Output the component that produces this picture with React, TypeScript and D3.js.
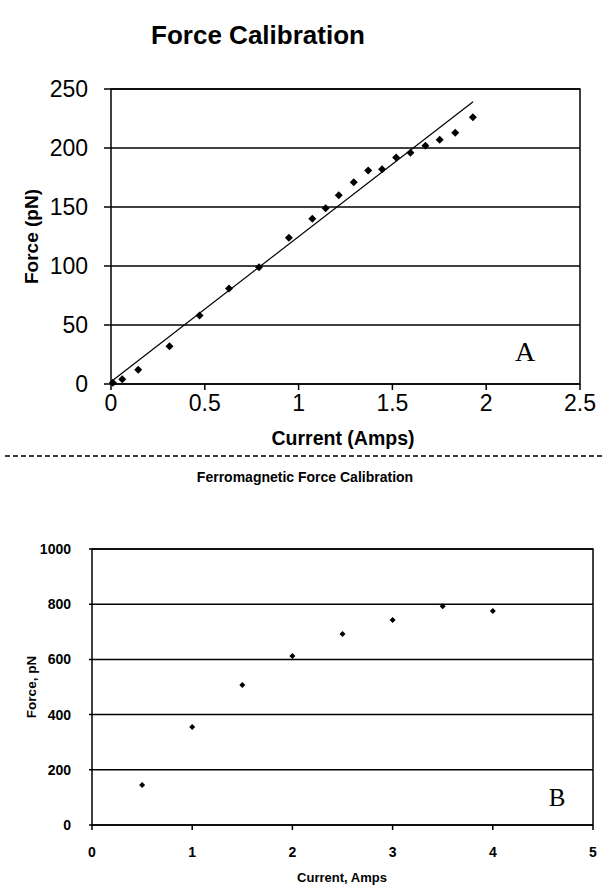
import React from "react";
import * as d3 from "d3";

// Panel A data
const currentA = [0.01, 0.06, 0.145, 0.312, 0.472, 0.629, 0.789, 0.948, 1.073, 1.144, 1.214, 1.294, 1.371, 1.445, 1.52, 1.596, 1.676, 1.752, 1.835, 1.929];
const forceA = [1, 4, 12, 32, 58, 81, 99, 124, 140, 149, 160, 171, 181, 182, 192, 196, 202, 207, 213, 226];
const trendSlopeA = 122.9;
const trendInterceptA = 2;
const trendRangeA = [0.01, 1.93];
const xTicksA = [0, 0.5, 1, 1.5, 2, 2.5];
const yTicksA = [0, 50, 100, 150, 200, 250];

// Panel B data
const currentB = [0.5, 1, 1.5, 2, 2.5, 3, 3.5, 4];
const forceB = [145, 355, 507, 612, 692, 743, 793, 775];
const xTicksB = [0, 1, 2, 3, 4, 5];
const yTicksB = [0, 200, 400, 600, 800, 1000];

const SANS = "'Liberation Sans', Arial, sans-serif";
const SERIF = "'Liberation Serif', 'Times New Roman', serif";

function diamond(cx: number, cy: number, r: number) {
  return `M${cx},${cy - r}L${cx + r},${cy}L${cx},${cy + r}L${cx - r},${cy}Z`;
}

export default function App() {
  // Panel A geometry
  const xA = d3.scaleLinear().domain([0, 2.5]).range([111, 580]);
  const yA = d3.scaleLinear().domain([0, 250]).range([384, 89]);
  // Panel B geometry
  const xB = d3.scaleLinear().domain([0, 5]).range([92, 593]);
  const yB = d3.scaleLinear().domain([0, 1000]).range([825, 549]);

  const trendLine = d3.line<number>()
    .x((d) => xA(d))
    .y((d) => yA(trendSlopeA * d + trendInterceptA));

  return (
    <svg width={607} height={890} style={{ position: "absolute", left: 0, top: 0, background: "#fff" }}>
      <rect x={0} y={0} width={607} height={890} fill="#fff" />
      {/* Panel A */}
      <text x={258} y={44} textAnchor="middle" fontFamily={SANS} fontWeight="bold" fontSize={26}>Force Calibration</text>
      {yTicksA.map((t) => (
        <g key={"ga" + t}>
          <line x1={xA(0) - 7} x2={xA(2.5)} y1={yA(t)} y2={yA(t)} stroke="#000" strokeWidth={1.5} />
          <text x={xA(0) - 23} y={yA(t)} dy="0.36em" textAnchor="end" fontFamily={SANS} fontSize={23}>{t}</text>
        </g>
      ))}
      {xTicksA.map((t) => (
        <g key={"xa" + t}>
          <line x1={xA(t)} x2={xA(t)} y1={yA(0)} y2={yA(0) + 6} stroke="#000" strokeWidth={1.5} />
          <text x={xA(t)} y={yA(0) + 27} textAnchor="middle" fontFamily={SANS} fontSize={23}>{t}</text>
        </g>
      ))}
      <rect x={xA(0)} y={yA(250)} width={xA(2.5) - xA(0)} height={yA(0) - yA(250)} fill="none" stroke="#000" strokeWidth={1.5} />
      <path d={trendLine(trendRangeA) || ""} fill="none" stroke="#000" strokeWidth={1.2} />
      {currentA.map((c, i) => (
        <path key={"pa" + i} d={diamond(xA(c), yA(forceA[i]), 4)} fill="#000" />
      ))}
      <text x={525} y={361} textAnchor="middle" fontFamily={SERIF} fontSize={28}>A</text>
      <text transform={`translate(38,${(yA(0) + yA(250)) / 2}) rotate(-90)`} textAnchor="middle" fontFamily={SANS} fontWeight="bold" fontSize={19}>Force (pN)</text>
      <text x={343} y={445} textAnchor="middle" fontFamily={SANS} fontWeight="bold" fontSize={19.5}>Current (Amps)</text>

      {/* separator */}
      <line x1={5} x2={602} y1={456} y2={456} stroke="#000" strokeWidth={1.5} strokeDasharray="5,3" />

      {/* Panel B */}
      <text x={305} y={482} textAnchor="middle" fontFamily={SANS} fontWeight="bold" fontSize={14}>Ferromagnetic Force Calibration</text>
      {yTicksB.map((t) => (
        <g key={"gb" + t}>
          <line x1={xB(0) - 3} x2={xB(5)} y1={yB(t)} y2={yB(t)} stroke="#000" strokeWidth={1.5} />
          <text x={xB(0) - 21} y={yB(t)} dy="0.36em" textAnchor="end" fontFamily={SANS} fontWeight="bold" fontSize={14}>{t}</text>
        </g>
      ))}
      {xTicksB.map((t) => (
        <g key={"xb" + t}>
          <line x1={xB(t)} x2={xB(t)} y1={yB(0)} y2={yB(0) + 5} stroke="#000" strokeWidth={1.5} />
          <text x={xB(t)} y={yB(0) + 32} textAnchor="middle" fontFamily={SANS} fontWeight="bold" fontSize={14}>{t}</text>
        </g>
      ))}
      <rect x={xB(0)} y={yB(1000)} width={xB(5) - xB(0)} height={yB(0) - yB(1000)} fill="none" stroke="#000" strokeWidth={1.5} />
      {currentB.map((c, i) => (
        <path key={"pb" + i} d={diamond(xB(c), yB(forceB[i]), 3)} fill="#000" />
      ))}
      <text x={557} y={806} textAnchor="middle" fontFamily={SERIF} fontSize={25}>B</text>
      <text transform={`translate(36,${(yB(0) + yB(1000)) / 2}) rotate(-90)`} textAnchor="middle" fontFamily={SANS} fontWeight="bold" fontSize={13.5}>Force, pN</text>
      <text x={342} y={882} textAnchor="middle" fontFamily={SANS} fontWeight="bold" fontSize={13}>Current, Amps</text>
    </svg>
  );
}
